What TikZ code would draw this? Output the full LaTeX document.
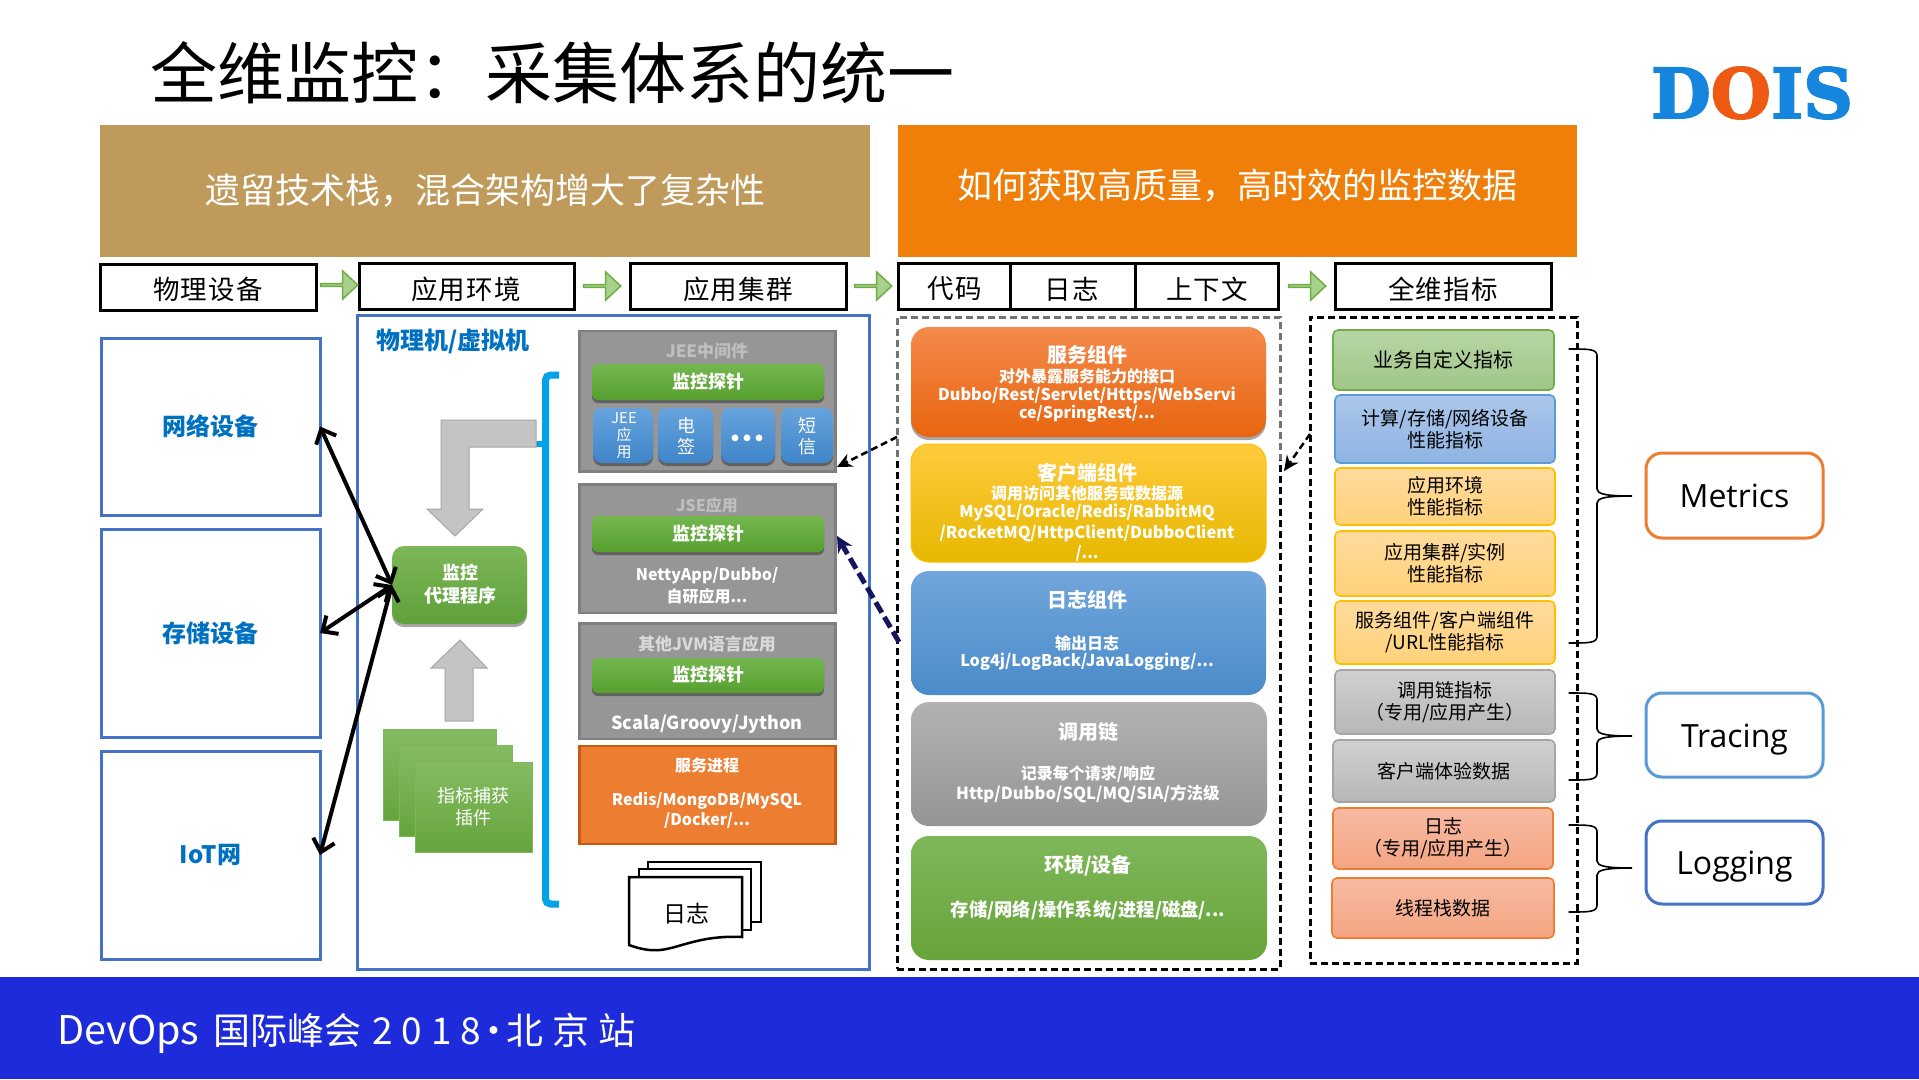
\documentclass[tikz,border=0pt]{standalone}
\usepackage{fontspec}
\setmainfont{Noto Sans CJK SC}
\newfontfamily\latinui{Open Sans}
\newfontfamily\logofont[BoldFeatures={FakeBold=2.5}]{DejaVu Serif}
\usetikzlibrary{arrows.meta,shapes.arrows,shadows}
\newcommand{\dc}[2]{\definecolor{#1}{HTML}{#2}}
\dc{bandblue}{1E2BDB}\dc{gold}{BF9A5A}\dc{banorange}{F07F09}\dc{boxblue}{4472C4}
\dc{labelblue}{0070C0}\dc{navyarrow}{14145F}\dc{cyanbr}{00A2E8}
\dc{pbar}{56A02F}\dc{pbarT}{74B64E}\dc{chipT}{66A3DD}\dc{chipB}{3F85C8}
\dc{orgln}{ED7D31}\dc{grnln}{70AD47}\dc{bluln}{5B9BD5}\dc{yelln}{FFC000}\dc{grayln}{A5A5A5}
\dc{mgT}{B7D5A4}\dc{mgB}{9FC687}\dc{mbT}{ABC6EA}\dc{mbB}{8FB4E3}\dc{myT}{FFDB9C}\dc{myB}{FFD27A}
\dc{myG}{D0D0D0}\dc{myH}{B7B7B7}\dc{moT}{F7BAA2}\dc{moB}{F4A582}
\dc{svT}{F48A4C}\dc{svB}{E8650F}\dc{clT}{FFCB3E}\dc{clB}{E6B800}\dc{lgT}{72A6DC}\dc{lgB}{4A8BC9}
\dc{trT}{B2B2B2}\dc{trB}{959595}\dc{enT}{7FB85A}\dc{enB}{67A43A}
\dc{agT}{7DB757}\dc{agB}{5EA03A}\dc{plT}{85BB62}\dc{plB}{65A53C}\dc{plL}{7FB55C}
\dc{haF}{A9D18E}\dc{panelF}{969696}\dc{panelL}{7F7F7F}\dc{gshape}{C4C4C4}\dc{gshapeL}{A6A6A6}
\dc{procL}{C55A11}\dc{logoB}{1585DD}\dc{logoO}{EE5A14}
\newcommand{\fz}[2]{\fontsize{#1}{#2}\selectfont}
\newcommand{\bx}[7]{\node[#2,minimum width={#5-#3},minimum height={#6-#4},inner sep=0pt,outer sep=0pt,align=center] (#1) at ({(#3+#5)/2},{(#4+#6)/2}) {#7};}
\newcommand{\tx}[5]{\node[inner sep=0pt,text=white,font=\bfseries\fz{#4}{#4},align=center] (#1) at (#2,#3) {#5};}
\newcommand{\txx}[6]{\node[inner sep=0pt,text=white,font=\fz{#4}{#5},align=center] (#1) at (#2,#3) {#6};}
\newcommand{\hd}[4]{\node[inner sep=0pt,font=\fz{26.5}{27}] (#1) at (#2,#3) {#4};}
\newcommand{\hk}{\kern1.2pt}
\newcommand{\brc}[3]{\draw[line width=1.6pt] (1568.6,#1) .. controls (1590,#1) and (1597,#1) .. (1597,{#1+7}) -- (1597,{#2-7}) .. controls (1597,{#2-2}) and (1606,#2) .. (1632,#2) .. controls (1606,#2) and (1597,{#2+2}) .. (1597,{#2+7}) -- (1597,{#3-7}) .. controls (1597,#3) and (1590,#3) .. (1568.6,#3);}
\tikzset{
 headbox/.style={draw=black,line width=3pt,fill=white},
 devbox/.style={draw=boxblue,line width=3pt,fill=white,font=\bfseries\fz{24}{24},text=labelblue},
 comp/.style={rounded corners=18pt,top color=#1T,bottom color=#1B},
 softsh/.style={drop shadow={shadow xshift=0pt,shadow yshift=-3pt,opacity=.35,fill=black}},
 probe/.style={rounded corners=6pt,top color=pbarT,bottom color=pbar,softsh},
 panel/.style={fill=panelF,draw=panelL,line width=2.5pt},
 chip/.style={rounded corners=9pt,top color=chipT,bottom color=chipB,softsh},
 metric/.style={rounded corners=5pt,line width=1.6pt,font=\fz{19}{22},draw=#1ln},
 harrow/.style={single arrow,draw=grnln,fill=haF,line width=1.5pt,minimum width=28pt,minimum height=37pt,single arrow head extend=7pt,single arrow tip angle=86,single arrow head indent=0pt,inner sep=0pt,outer sep=0pt},
 sidebox/.style={draw=#1,fill=white,line width=3pt,rounded corners=16pt,font=\latinui\fz{32}{32},text height=24pt,text depth=0pt},
 dashbox/.style={draw=black,line width=3pt,dash pattern=on 7pt off 4pt},
 biarrow/.style={line width=4pt,{Straight Barb[length=12pt,width=22pt,line width=4pt]}-{Straight Barb[length=12pt,width=22pt,line width=4pt]}},
 grayshape/.style={fill=gshape,draw=gshapeL,line width=1pt},
 plug/.style={top color=plT,bottom color=plB,draw=plL,line width=1pt},
 sheet/.style={draw=black,fill=white,line width=2.5pt},
}
\begin{document}
\begin{tikzpicture}[x=1pt,y=-1pt]
\useasboundingbox (0,0) rectangle (1919,1079);
\fill[white] (0,0) rectangle (1919,1079);

% title + logo
\node[inner sep=0pt,anchor=west,font=\fz{67}{67}] (title) at (150,73) {全维监控：采集体系的统一};
\node[inner sep=0pt,font=\logofont\bfseries\fz{69}{69}] (logo) at (1752,93) {\textcolor{logoB}{D}\textcolor{logoO}{O}\textcolor{logoB}{IS}};

% banners
\bx{ban1}{fill=gold}{100}{125}{870}{257}{}
\node[inner sep=0pt,text=white,font=\fz{35}{35}] (ban1t) at (485,191) {遗留技术栈，混合架构增大了复杂性};
\bx{ban2}{fill=banorange}{898}{125}{1577}{257}{}
\node[inner sep=0pt,text=white,font=\fz{35}{35}] (ban2t) at (1237,186) {如何获取高质量，高时效的监控数据};

% header row
\bx{hA}{headbox}{100}{264}{316}{310}{}
\bx{hB}{headbox}{359}{263}{574}{309}{}
\bx{hC}{headbox}{630}{263}{846}{309}{}
\bx{hD}{headbox}{898}{263}{1278}{309}{}
\bx{hE}{headbox}{1335}{263}{1551}{309}{}
\draw[line width=3pt] (1010,263) coordinate (d1a) -- (1010,309);
\draw[line width=3pt] (1135,263) coordinate (d2a) -- (1135,309);
\hd{tA}{208}{289}{物\hk 理\hk 设\hk 备}
\hd{tB}{466}{289}{应\hk 用\hk 环\hk 境}
\hd{tC}{738}{289}{应\hk 用\hk 集\hk 群}
\hd{tD}{955}{289}{代\hk 码}
\hd{tE}{1072}{289}{日\hk 志}
\hd{tF}{1207}{289}{上\hk 下\hk 文}
\hd{tG}{1443}{289}{全\hk 维\hk 指\hk 标}
\node[harrow] (a1) at (338.5,285) {};
\node[harrow] (a2) at (601.5,286) {};
\node[harrow] (a3) at (872.5,286) {};
\node[harrow] (a4) at (1306.5,286) {};

% device boxes
\bx{net}{devbox}{101}{338}{320}{515}{网络设备}
\bx{sto}{devbox}{101}{529}{320}{737}{存储设备}
\bx{iot}{devbox}{101}{751}{320}{959}{IoT网}

% host box
\bx{host}{draw=boxblue,line width=3pt}{357}{315}{869}{969}{}
\node[inner sep=0pt,anchor=west,font=\bfseries\fz{24}{24},text=labelblue] (hostt) at (376,341) {物理机/虚拟机};

% bracket
\draw[cyanbr,line width=7pt,rounded corners=5pt] (559,375) coordinate (brt) -- (545.5,375) -- (545.5,904) -- (559,904) coordinate (brb);
\draw[cyanbr,line width=6pt] (536,444) coordinate (brm) -- (545,444);

% gray arrows
\path[grayshape] (536,420) -- (441,420) -- (441,509) -- (427,509) -- (455,536) -- (483,509) -- (469,509) -- (469,447) -- (536,447) -- cycle;
\path[grayshape] (445,721) -- (445,668) -- (431,668) -- (460,640) -- (487,668) -- (473,668) -- (473,721) -- cycle;

% agent
\bx{agent}{rounded corners=12pt,top color=agT,bottom color=agB,softsh}{392}{546}{527}{624}{}
\node[inner sep=0pt,text=white,font=\bfseries\fz{18}{23},align=center] (agt) at (460,584) {监控\\代理程序};

% plugins
\bx{pl1}{plug}{383}{729}{496}{820}{}
\bx{pl2}{plug}{399}{745}{512}{836}{}
\bx{pl3}{plug}{415}{762}{532}{852}{}
\node[inner sep=0pt,text=white,font=\fz{18}{22},align=center] (plt) at (473,807) {指标捕获\\插件};

% JEE panel
\bx{jee}{panel}{579.5}{331}{835.5}{471.5}{}
\node[inner sep=0pt,text=white!75!black,font=\bfseries\fz{17}{17}] (jeet) at (707,351) {JEE中间件};
\bx{probe1}{probe}{592}{364}{824}{400}{}
\tx{p1t}{708}{382}{18}{监控探针}
\bx{c1}{chip}{593}{408}{653}{463}{}
\bx{c2}{chip}{658}{408}{713}{463}{}
\bx{c3}{chip}{721}{408}{775}{463}{}
\bx{c4}{chip}{781}{408}{833}{463}{}
\txx{c1t}{624}{436}{15}{17}{JEE\\应\\用}
\txx{c2t}{686}{436}{18}{21}{电\\签}
\tx{c3t}{747}{441}{24}{•\kern-12pt•\kern-12pt•}
\txx{c4t}{807}{436}{18}{21}{短\\信}

% JSE panel
\bx{jse}{panel}{579.5}{484.5}{835.5}{613}{}
\node[inner sep=0pt,text=white!75!black,font=\bfseries\fz{16}{16}] (jset) at (707,505) {JSE应用};
\bx{probe2}{probe}{592}{516}{824}{552}{}
\tx{p2t}{708}{534}{18}{监控探针}
\tx{jse1}{707}{576}{16}{NettyApp/Dubbo/}
\tx{jse2}{707}{596}{16}{自研应用...}

% other JVM panel
\bx{jvm}{panel}{579.5}{623.5}{835.5}{739}{}
\node[inner sep=0pt,text=white!85!black,font=\bfseries\fz{17}{17}] (jvmt) at (707,644) {其他JVM语言应用};
\bx{probe3}{probe}{592}{658}{824}{693}{}
\tx{p3t}{708}{675}{18}{监控探针}
\tx{jvm1}{707}{724}{18}{Scala/Groovy/Jython}

% service process
\bx{proc}{fill=orgln,draw=procL,line width=2.5pt}{579.5}{746}{835.5}{844}{}
\tx{proct}{707}{765}{16}{服务进程}
\tx{proc1}{707}{801}{16}{Redis/MongoDB/MySQL}
\tx{proc2}{707}{820}{16}{/Docker/...}

% log doc
\draw[sheet] (648,862) rectangle (761,922);
\draw[sheet] (639,869) rectangle (751,930);
\draw[sheet] (629,877) -- (742,877) -- (742,937) .. controls (700,935) and (680,948) .. (660,950) .. controls (650,951) and (640,949) .. (629,945) -- cycle;
\node[inner sep=0pt,font=\fz{23}{23}] (logt) at (686,914) {日志};

% middle dashed box
\bx{dash1}{dashbox}{897}{317}{1280}{969}{}
\draw[white,opacity=.45,line width=4pt] (897,460) coordinate (fa) -- (897,317) -- (1280,317) -- (1280,460) coordinate (fb);
\bx{svc}{comp=sv,softsh}{911}{327}{1266}{437}{}
\bx{cli}{comp=cl,draw=yelln,line width=1pt}{911}{444}{1266}{562}{}
\bx{lg}{comp=lg}{911}{571}{1266}{695}{}
\bx{trc}{comp=tr}{911}{702}{1267}{826}{}
\bx{env}{comp=en}{911}{836}{1267}{960}{}
\tx{s1}{1087}{355}{20}{服务组件}
\tx{s2}{1087}{376}{16}{对外暴露服务能力的接口}
\tx{s3}{1087}{395}{16.2}{Dubbo/Rest/Servlet/Https/WebServi}
\tx{s4}{1087}{414}{16}{ce/SpringRest/...}
\tx{k1}{1087}{473}{20}{客户端组件}
\tx{k2}{1087}{493}{16}{调用访问其他服务或数据源}
\tx{k3}{1087}{513}{16.2}{MySQL/Oracle/Redis/RabbitMQ}
\tx{k4}{1087}{533}{16.4}{/RocketMQ/HttpClient/DubboClient}
\tx{k5}{1087}{553}{16}{/...}
\tx{l1}{1087}{600}{20}{日志组件}
\tx{l2}{1087}{643}{16}{输出日志}
\tx{l3}{1087}{662}{16.2}{Log4j/LogBack/JavaLogging/...}
\tx{t1}{1088}{732}{20}{调用链}
\tx{t2}{1088}{774}{16}{记录每个请求/响应}
\tx{t3}{1088}{794}{16.6}{Http/Dubbo/SQL/MQ/SIA/方法级}
\tx{e1}{1088}{866}{20}{环境/设备}
\tx{e2}{1088}{910}{18.3}{存储/网络/操作系统/进程/磁盘/...}

% right dashed box
\bx{dash2}{dashbox}{1310}{317}{1577}{963}{}
\bx{m1}{metric=grn,top color=mgT,bottom color=mgB,font=\fz{20}{22}}{1333}{330}{1554}{390}{业务自定义指标}
\bx{m2}{metric=blu,top color=mbT,bottom color=mbB}{1335}{395}{1555}{463}{计算/存储/网络设备\\性能指标}
\bx{m3}{metric=yel,top color=myT,bottom color=myB}{1335}{468}{1555}{525}{应用环境\\性能指标}
\bx{m4}{metric=yel,top color=myT,bottom color=myB}{1335}{531}{1555}{596}{应用集群/实例\\性能指标}
\bx{m5}{metric=yel,top color=myT,bottom color=myB}{1335}{601}{1555}{664}{服务组件/客户端组件\\/URL性能指标}
\bx{m6}{metric=gray,top color=myG,bottom color=myH}{1335}{670}{1555}{734}{调用链指标\\（专用/应用产生）}
\bx{m7}{metric=gray,top color=myG,bottom color=myH}{1333}{740}{1555}{802}{客户端体验数据}
\bx{m8}{metric=org,top color=moT,bottom color=moB}{1333}{808}{1553}{869}{日志\\（专用/应用产生）}
\bx{m9}{metric=org,top color=moT,bottom color=moB}{1332}{878}{1554}{938}{线程栈数据}

% braces
\brc{349}{496}{643}
\brc{693}{736}{780}
\brc{825}{868}{912}

% side boxes
\bx{metrics}{sidebox=orgln}{1646}{453}{1823}{538}{Metrics}
\bx{tracing}{sidebox=bluln}{1646}{693}{1823}{777}{Tracing}
\bx{logging}{sidebox=boxblue}{1646}{821}{1823}{904}{Logging}

% connectors
\draw[biarrow] (agent.west) -- (net.east);
\draw[biarrow] (agent.west) -- (sto.east);
\draw[biarrow] (agent.west) -- (iot.east);
\coordinate (da1) at (897,437);
\coordinate (da2) at (837,467);
\draw[line width=2.5pt,dash pattern=on 7pt off 4pt,-{Stealth[length=15pt,width=14pt]}] (da1) -- (da2);
\coordinate (db1) at (899,642);
\coordinate (db2) at (837,536);
\draw[line width=5pt,navyarrow,dash pattern=on 12pt off 5pt,-{Stealth[length=16pt,width=16pt]}] (db1) -- (db2);
\coordinate (dc1) at (1310,434);
\coordinate (dc2) at (1284,471);
\draw[line width=2.5pt,dash pattern=on 7pt off 4pt,-{Stealth[length=15pt,width=14pt]}] (dc1) -- (dc2);

% footer band
\bx{band}{fill=bandblue}{0}{977}{1919}{1079}{}
\node[inner sep=0pt,anchor=base west,text=white,font=\fz{37}{37}] (foot) at (57,1044) {\fontsize{39.5}{39}\selectfont DevOps\kern14pt\fz{37}{37}国际峰会\kern11pt 2\kern9pt 0\kern9pt 1\kern9pt 8\kern3pt\makebox[20pt]{·}\kern2pt 北\kern9pt 京\kern9pt 站};
\end{tikzpicture}
\end{document}
